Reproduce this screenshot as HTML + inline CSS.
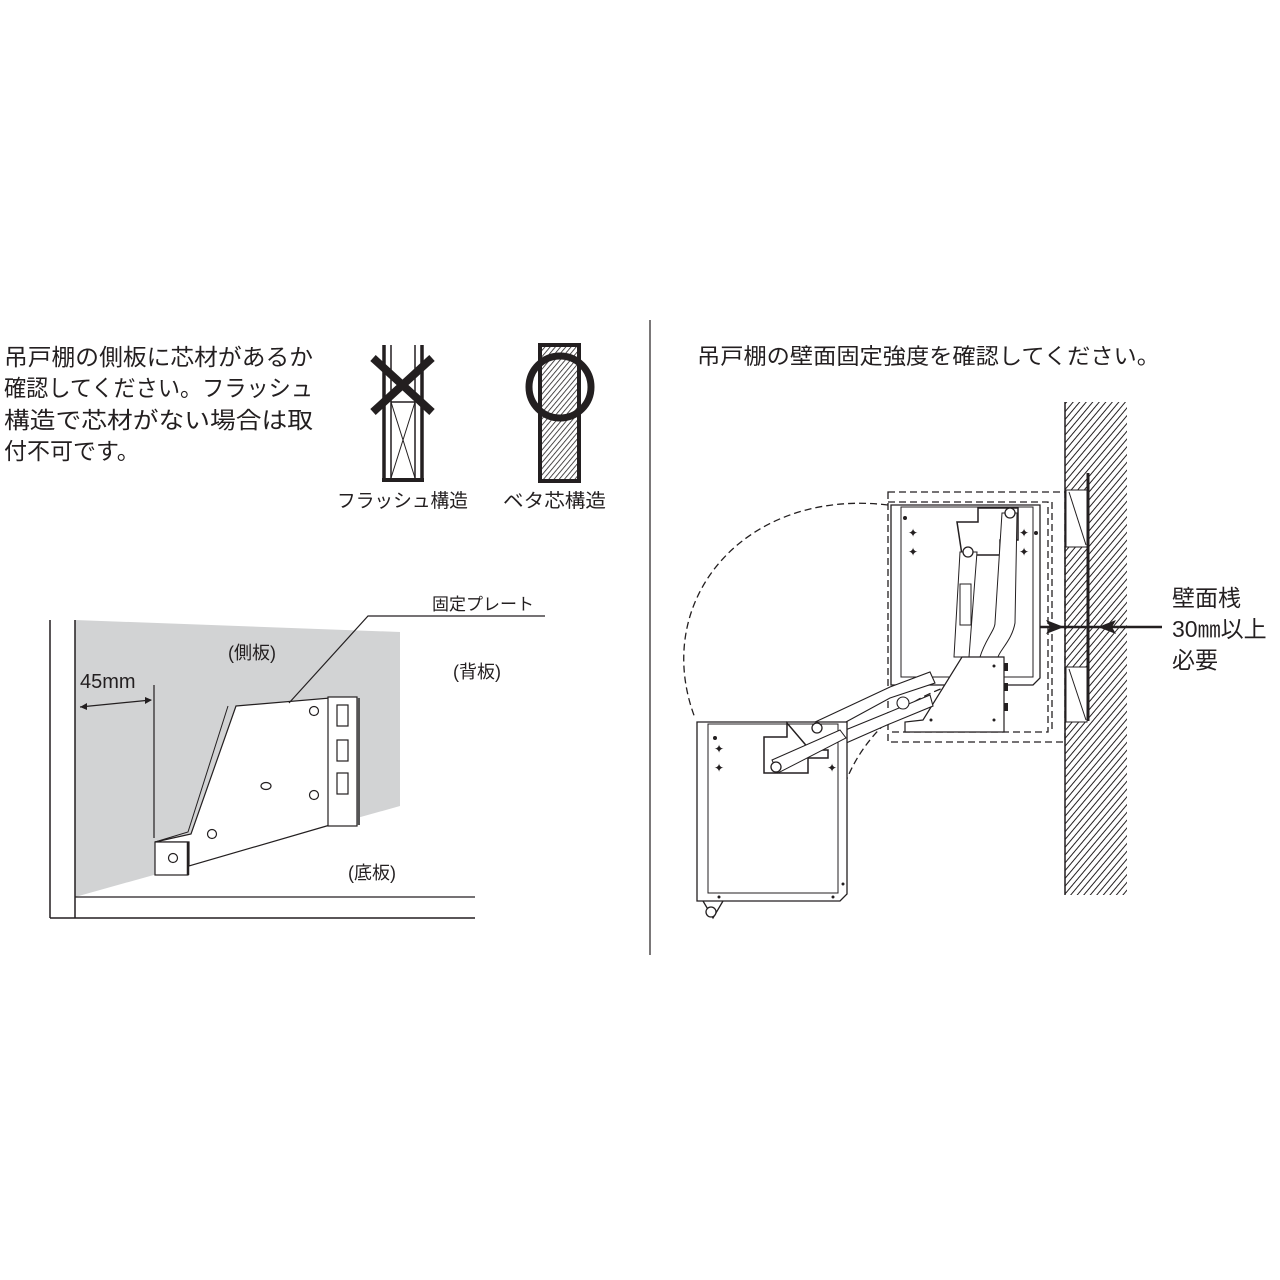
<!DOCTYPE html>
<html><head><meta charset="utf-8"><style>
html,body{margin:0;padding:0;background:#fff}
svg{display:block}
text{font-family:"Liberation Sans","Noto Sans CJK JP",sans-serif;fill:#231f20}
</style></head><body>
<svg width="1280" height="1280" viewBox="0 0 1280 1280" xmlns="http://www.w3.org/2000/svg">
<defs>
<pattern id="h1" width="5" height="5" patternUnits="userSpaceOnUse" patternTransform="rotate(40)">
<line x1="0" y1="0" x2="0" y2="5" stroke="#231f20" stroke-width="2"/></pattern>
<pattern id="h2" width="4" height="4" patternUnits="userSpaceOnUse" patternTransform="rotate(40)">
<line x1="0" y1="0" x2="0" y2="4" stroke="#231f20" stroke-width="1.6"/></pattern>
</defs>

<!-- left text -->
<g font-size="23">
<text x="4" y="365" textLength="309" lengthAdjust="spacingAndGlyphs">吊戸棚の側板に芯材があるか</text>
<text x="4" y="396" textLength="309" lengthAdjust="spacingAndGlyphs">確認してください。フラッシュ</text>
<text x="4" y="428" textLength="309" lengthAdjust="spacingAndGlyphs">構造で芯材がない場合は取</text>
<text x="4" y="459">付不可です。</text>
</g>

<!-- flush icon -->
<g stroke="#231f20" fill="none">
<line x1="384" y1="345" x2="384" y2="482" stroke-width="3.5"/>
<line x1="422" y1="345" x2="422" y2="482" stroke-width="3.5"/>
<line x1="391" y1="345" x2="391" y2="482" stroke-width="1.5"/>
<line x1="415" y1="345" x2="415" y2="482" stroke-width="1.5"/>
<line x1="382" y1="480" x2="424" y2="480" stroke-width="4"/>
<line x1="391" y1="402" x2="415" y2="402" stroke-width="1.5"/>
<line x1="391" y1="402" x2="415" y2="478" stroke-width="1"/>
<line x1="415" y1="402" x2="391" y2="478" stroke-width="1"/>
<line x1="373" y1="358" x2="432" y2="412" stroke-width="8"/>
<line x1="432" y1="358" x2="373" y2="412" stroke-width="8"/>
</g>
<!-- beta icon -->
<rect x="540" y="345" width="39" height="136" fill="url(#h2)" stroke="#231f20" stroke-width="4"/>
<circle cx="560" cy="387" r="31" fill="none" stroke="#231f20" stroke-width="7"/>
<text x="337" y="507" font-size="19" textLength="131" lengthAdjust="spacingAndGlyphs">フラッシュ構造</text>
<text x="503" y="507" font-size="19" textLength="103" lengthAdjust="spacingAndGlyphs">ベタ芯構造</text>

<!-- left drawing -->
<polygon points="75,620 400,632 400,806 75,897" fill="#d2d3d4"/>
<g stroke="#231f20" fill="none">
<line x1="50" y1="620" x2="50" y2="918" stroke-width="1.5"/>
<line x1="75" y1="620" x2="75" y2="918" stroke-width="1.5"/>
<line x1="75" y1="897" x2="475" y2="897" stroke-width="1.2"/>
<line x1="50" y1="918" x2="475" y2="918" stroke-width="1.5"/>
<line x1="154" y1="685" x2="154" y2="838" stroke-width="1.2"/>
<line x1="80" y1="707" x2="151" y2="700" stroke-width="1.2"/>
</g>
<polygon points="80,707 87,703 87,710" fill="#231f20"/>
<polygon points="152,700 145,697 145,704" fill="#231f20"/>
<text x="80" y="688" font-size="20">45mm</text>
<!-- plate -->
<polygon points="236,706 330,698 330,825 189,866 189,842 155,842 191,834" fill="#fff" stroke="#231f20" stroke-width="1.2"/>
<polyline points="155,842 188,832 228,706" fill="none" stroke="#231f20" stroke-width="1"/>
<rect x="328" y="697" width="29" height="129" fill="#fff" stroke="#231f20" stroke-width="1.2"/>
<rect x="357" y="698" width="3" height="127" fill="#555"/>
<rect x="155" y="842" width="33" height="33" fill="#fff" stroke="#231f20" stroke-width="1.2"/>
<line x1="188" y1="842" x2="188" y2="875" stroke="#231f20" stroke-width="2.5"/>
<g fill="none" stroke="#231f20" stroke-width="1.2">
<circle cx="173" cy="858" r="4.5"/>
<circle cx="314" cy="711" r="4.5"/>
<circle cx="314" cy="795" r="4.5"/>
<circle cx="212" cy="834" r="4.5"/>
<ellipse cx="266" cy="786" rx="5" ry="3.5"/>
<rect x="337" y="705" width="11" height="21"/>
<rect x="337" y="740" width="11" height="21"/>
<rect x="337" y="773" width="11" height="21"/>
<polyline points="289,703 368,616 545,616"/>
</g>
<text x="432" y="610" font-size="17">固定プレート</text>
<text x="228" y="659" font-size="18">(側板)</text>
<text x="453" y="678" font-size="18">(背板)</text>
<text x="348" y="879" font-size="18">(底板)</text>

<!-- divider -->
<line x1="650" y1="320" x2="650" y2="955" stroke="#231f20" stroke-width="1.2"/>

<!-- right -->
<text x="697" y="364" font-size="22" textLength="463" lengthAdjust="spacingAndGlyphs">吊戸棚の壁面固定強度を確認してください。</text>
<rect x="1065" y="402" width="62" height="493" fill="url(#h1)"/>
<line x1="1065" y1="402" x2="1065" y2="895" stroke="#231f20" stroke-width="1.5"/>
<rect x="1066" y="490" width="21" height="57" fill="#fff" stroke="#231f20" stroke-width="1"/>
<line x1="1069" y1="492" x2="1086" y2="545" stroke="#231f20"/>
<rect x="1066" y="667" width="21" height="55" fill="#fff" stroke="#231f20" stroke-width="1"/>
<line x1="1069" y1="669" x2="1086" y2="720" stroke="#231f20"/>
<line x1="1088" y1="473" x2="1088" y2="721" stroke="#231f20" stroke-width="3"/>
<line x1="1016" y1="627" x2="1162" y2="627" stroke="#231f20" stroke-width="2.5"/>
<polygon points="1064,627 1046,620 1050,627 1046,634" fill="#231f20"/>
<polygon points="1098,627 1116,620 1112,627 1116,634" fill="#231f20"/>
<g font-size="23">
<text x="1172" y="606">壁面桟</text>
<text x="1172" y="637">30㎜以上</text>
<text x="1172" y="668">必要</text>
</g>

<!-- dashed boxes -->
<g fill="none" stroke="#231f20" stroke-width="1.3" stroke-dasharray="7,4">
<rect x="888" y="492" width="177" height="250"/>
<polyline points="888,502 1048,502 1048,732 888,732"/>
<line x1="1052" y1="502" x2="1052" y2="732"/>
<path d="M888,505 C745,488 650,600 695,718"/>
<path d="M1005,676 C900,680 820,760 836,875"/>
</g>

<!-- upper cabinet -->
<g fill="#fff" stroke="#231f20" stroke-width="1.3">
<path d="M891,505 L1040,505 L1040,678 L1033,685 L891,685 Z"/>
<path d="M901,507 L1033,507 L1033,677 L901,677 Z" stroke-width="1"/>
<polygon points="957,522 978,522 978,508 1018,508 1018,540 1000,540 1000,555 962,555" stroke-width="1.5"/>
<polygon points="960,552 977,552 969,657 954,657" stroke-width="1"/>
<rect x="960" y="584" width="11" height="41" stroke-width="1"/>
<path d="M1002,513 L1017,513 L1015,623 C1012,640 1000,650 998,657 L980,657 C985,640 995,630 995,623 Z" stroke-width="1"/>
<polygon points="962,657 1004,657 1004,732 905,732 905,722 923,720" stroke-width="1.2"/>
<circle cx="1010" cy="513" r="5"/>
<circle cx="968" cy="552" r="5"/>
</g>
<g fill="#231f20">
<rect x="1004" y="663" width="4" height="8"/><rect x="1004" y="683" width="4" height="8"/><rect x="1004" y="703" width="4" height="8"/>
<circle cx="905" cy="518" r="2"/><circle cx="1036" cy="533" r="2"/><circle cx="994" cy="666" r="1.5"/><circle cx="994" cy="720" r="1.5"/><circle cx="931" cy="720" r="1.5"/>
</g>
<g font-size="12" fill="#231f20"><text x="908" y="537">✦</text><text x="908" y="556">✦</text><text x="1019" y="537">✦</text><text x="1019" y="556">✦</text></g>

<!-- arms -->
<g fill="#fff" stroke="#231f20" stroke-width="1.1">
<polygon points="813,723 890,687 930,672 935,683 890,698 822,735"/>
<polygon points="772,760 887,713 930,695 933,706 887,725 778,773"/>
<circle cx="903" cy="703" r="6"/>
<circle cx="817" cy="728" r="5"/>
<circle cx="776" cy="767" r="5"/>
</g>

<!-- lower cabinet -->
<g fill="#fff" stroke="#231f20" stroke-width="1.3">
<path d="M697,722 L847,722 L847,894 L840,901 L697,901 Z"/>
<path d="M708,724 L838,724 L838,893 L708,893 Z" stroke-width="1"/>
<polygon points="787,723 787,737 764,737 764,773 808,773 808,758 828,758 828,750 810,750" stroke-width="1.5"/>
<polygon points="772,760 840,730 846,738 778,773" stroke-width="1"/>
<circle cx="817" cy="728" r="5"/>
<circle cx="776" cy="767" r="5"/>
<polyline points="703,901 713,918 723,901" fill="none"/>
<circle cx="711" cy="912" r="5"/>
</g>
<g font-size="12" fill="#231f20"><text x="714" y="753">✦</text><text x="714" y="772">✦</text><text x="827" y="772">✦</text></g>
<g fill="#231f20"><circle cx="715" cy="738" r="2"/><circle cx="719" cy="897" r="1.5"/><circle cx="833" cy="897" r="1.5"/><circle cx="843" cy="884" r="1.5"/></g>
</svg>
</body></html>
